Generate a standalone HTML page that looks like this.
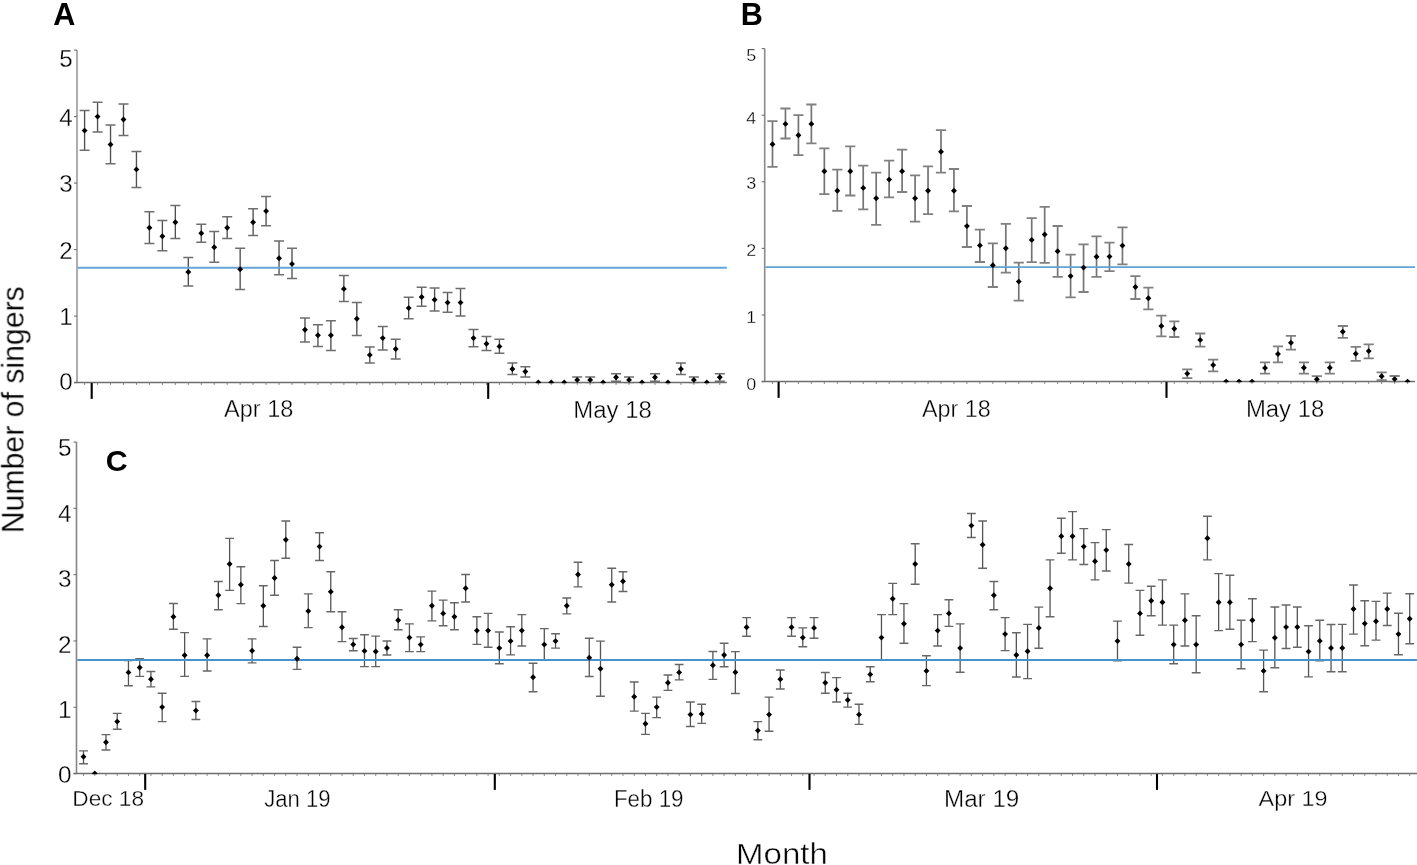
<!DOCTYPE html><html><head><meta charset="utf-8"><style>html,body{margin:0;padding:0;background:#fff;}body{width:1417px;height:865px;overflow:hidden;}svg{display:block;font-family:"Liberation Sans",sans-serif;}</style></head><body>
<svg width="1417" height="865" viewBox="0 0 1417 865">
<rect width="1417" height="865" fill="#fff"/>
<line x1="77" y1="50" x2="77" y2="382.6" stroke="#9a9a9a" stroke-width="1.6"/>
<line x1="74.00" y1="382.60" x2="77.00" y2="382.60" stroke="#707070" stroke-width="1.1"/>
<line x1="74.00" y1="316.10" x2="77.00" y2="316.10" stroke="#707070" stroke-width="1.1"/>
<line x1="74.00" y1="249.60" x2="77.00" y2="249.60" stroke="#707070" stroke-width="1.1"/>
<line x1="74.00" y1="183.10" x2="77.00" y2="183.10" stroke="#707070" stroke-width="1.1"/>
<line x1="74.00" y1="116.60" x2="77.00" y2="116.60" stroke="#707070" stroke-width="1.1"/>
<line x1="74.00" y1="50.10" x2="77.00" y2="50.10" stroke="#707070" stroke-width="1.1"/>
<line x1="74.00" y1="382.6" x2="726.8" y2="382.6" stroke="#6e6e6e" stroke-width="1.5"/>
<path d="M84.60 382.60v2.3M97.56 382.60v2.3M110.53 382.60v2.3M123.49 382.60v2.3M136.45 382.60v2.3M149.41 382.60v2.3M162.38 382.60v2.3M175.34 382.60v2.3M188.30 382.60v2.3M201.27 382.60v2.3M214.23 382.60v2.3M227.19 382.60v2.3M240.16 382.60v2.3M253.12 382.60v2.3M266.08 382.60v2.3M279.04 382.60v2.3M292.01 382.60v2.3M304.97 382.60v2.3M317.93 382.60v2.3M330.90 382.60v2.3M343.86 382.60v2.3M356.82 382.60v2.3M369.79 382.60v2.3M382.75 382.60v2.3M395.71 382.60v2.3M408.67 382.60v2.3M421.64 382.60v2.3M434.60 382.60v2.3M447.56 382.60v2.3M460.53 382.60v2.3M473.49 382.60v2.3M486.45 382.60v2.3M499.42 382.60v2.3M512.38 382.60v2.3M525.34 382.60v2.3M538.30 382.60v2.3M551.27 382.60v2.3M564.23 382.60v2.3M577.19 382.60v2.3M590.16 382.60v2.3M603.12 382.60v2.3M616.08 382.60v2.3M629.05 382.60v2.3M642.01 382.60v2.3M654.97 382.60v2.3M667.93 382.60v2.3M680.90 382.60v2.3M693.86 382.60v2.3M706.82 382.60v2.3M719.79 382.60v2.3" stroke="#808080" stroke-width="1" fill="none"/>
<line x1="91.7" y1="383.00" x2="91.7" y2="398.90" stroke="#000" stroke-width="2.1"/>
<line x1="488.2" y1="383.00" x2="488.2" y2="398.90" stroke="#000" stroke-width="2.1"/>
<clipPath id="ca"><rect x="77" y="0" width="659.8" height="383.20"/></clipPath>
<g clip-path="url(#ca)">
<path d="M84.60 110.50V150.20M97.56 102.20V132.00M110.53 124.90V163.70M123.49 104.10V135.50M136.45 151.40V187.40M149.41 211.80V243.60M162.38 220.60V250.80M175.34 205.50V238.60M188.30 257.50V286.10M201.27 224.20V242.20M214.23 231.40V262.30M227.19 216.80V238.60M240.16 248.30V289.60M253.12 208.80V235.50M266.08 196.40V225.80M279.04 240.90V274.80M292.01 248.30V278.50M304.97 317.90V342.00M317.93 324.70V346.40M330.90 320.80V350.60M343.86 275.60V301.40M356.82 302.60V335.40M369.79 347.10V363.00M382.75 326.50V349.90M395.71 339.30V359.10M408.67 297.30V318.70M421.64 287.30V306.20M434.60 288.00V311.10M447.56 292.40V312.20M460.53 288.50V315.90M473.49 329.60V346.70M486.45 336.50V350.60M499.42 339.30V353.30M512.38 363.10V374.50M525.34 366.70V377.10M577.19 376.90V382.90M590.16 376.90V382.90M616.08 373.70V381.20M629.05 376.90V382.90M654.97 373.70V381.20M680.90 363.10V374.50M693.86 376.90V382.90M719.79 373.70V381.20" stroke="#505050" stroke-width="1.35" fill="none"/>
<path d="M79.60 110.50h10.00M79.60 150.20h10.00M92.56 102.20h10.00M92.56 132.00h10.00M105.53 124.90h10.00M105.53 163.70h10.00M118.49 104.10h10.00M118.49 135.50h10.00M131.45 151.40h10.00M131.45 187.40h10.00M144.41 211.80h10.00M144.41 243.60h10.00M157.38 220.60h10.00M157.38 250.80h10.00M170.34 205.50h10.00M170.34 238.60h10.00M183.30 257.50h10.00M183.30 286.10h10.00M196.27 224.20h10.00M196.27 242.20h10.00M209.23 231.40h10.00M209.23 262.30h10.00M222.19 216.80h10.00M222.19 238.60h10.00M235.16 248.30h10.00M235.16 289.60h10.00M248.12 208.80h10.00M248.12 235.50h10.00M261.08 196.40h10.00M261.08 225.80h10.00M274.04 240.90h10.00M274.04 274.80h10.00M287.01 248.30h10.00M287.01 278.50h10.00M299.97 317.90h10.00M299.97 342.00h10.00M312.93 324.70h10.00M312.93 346.40h10.00M325.90 320.80h10.00M325.90 350.60h10.00M338.86 275.60h10.00M338.86 301.40h10.00M351.82 302.60h10.00M351.82 335.40h10.00M364.79 347.10h10.00M364.79 363.00h10.00M377.75 326.50h10.00M377.75 349.90h10.00M390.71 339.30h10.00M390.71 359.10h10.00M403.67 297.30h10.00M403.67 318.70h10.00M416.64 287.30h10.00M416.64 306.20h10.00M429.60 288.00h10.00M429.60 311.10h10.00M442.56 292.40h10.00M442.56 312.20h10.00M455.53 288.50h10.00M455.53 315.90h10.00M468.49 329.60h10.00M468.49 346.70h10.00M481.45 336.50h10.00M481.45 350.60h10.00M494.42 339.30h10.00M494.42 353.30h10.00M507.38 363.10h10.00M507.38 374.50h10.00M520.34 366.70h10.00M520.34 377.10h10.00M572.19 376.90h10.00M572.19 382.90h10.00M585.16 376.90h10.00M585.16 382.90h10.00M611.08 373.70h10.00M611.08 381.20h10.00M624.05 376.90h10.00M624.05 382.90h10.00M649.97 373.70h10.00M649.97 381.20h10.00M675.90 363.10h10.00M675.90 374.50h10.00M688.86 376.90h10.00M688.86 382.90h10.00M714.79 373.70h10.00M714.79 381.20h10.00" stroke="#6e6e6e" stroke-width="1.5" fill="none"/>
</g>
<line x1="77.80" y1="267.8" x2="726.8" y2="267.8" stroke="#64a4d8" stroke-width="2.1"/>
<g clip-path="url(#ca)"><path d="M84.60 127.65L87.55 130.60L84.60 133.55L81.65 130.60ZM97.56 113.65L100.51 116.60L97.56 119.55L94.61 116.60ZM110.53 141.55L113.48 144.50L110.53 147.45L107.58 144.50ZM123.49 116.55L126.44 119.50L123.49 122.45L120.54 119.50ZM136.45 166.45L139.40 169.40L136.45 172.35L133.50 169.40ZM149.41 224.75L152.36 227.70L149.41 230.65L146.47 227.70ZM162.38 233.25L165.33 236.20L162.38 239.15L159.43 236.20ZM175.34 219.25L178.29 222.20L175.34 225.15L172.39 222.20ZM188.30 269.05L191.25 272.00L188.30 274.95L185.35 272.00ZM201.27 230.25L204.22 233.20L201.27 236.15L198.32 233.20ZM214.23 244.35L217.18 247.30L214.23 250.25L211.28 247.30ZM227.19 224.75L230.14 227.70L227.19 230.65L224.24 227.70ZM240.16 266.25L243.11 269.20L240.16 272.15L237.21 269.20ZM253.12 219.25L256.07 222.20L253.12 225.15L250.17 222.20ZM266.08 208.15L269.03 211.10L266.08 214.05L263.13 211.10ZM279.04 255.25L281.99 258.20L279.04 261.15L276.09 258.20ZM292.01 260.95L294.96 263.90L292.01 266.85L289.06 263.90ZM304.97 326.75L307.92 329.70L304.97 332.65L302.02 329.70ZM317.93 332.35L320.88 335.30L317.93 338.25L314.98 335.30ZM330.90 332.35L333.85 335.30L330.90 338.25L327.95 335.30ZM343.86 285.95L346.81 288.90L343.86 291.85L340.91 288.90ZM356.82 315.75L359.77 318.70L356.82 321.65L353.87 318.70ZM369.79 351.95L372.74 354.90L369.79 357.85L366.84 354.90ZM382.75 335.15L385.70 338.10L382.75 341.05L379.80 338.10ZM395.71 346.05L398.66 349.00L395.71 351.95L392.76 349.00ZM408.67 305.15L411.62 308.10L408.67 311.05L405.72 308.10ZM421.64 294.05L424.59 297.00L421.64 299.95L418.69 297.00ZM434.60 296.85L437.55 299.80L434.60 302.75L431.65 299.80ZM447.56 299.65L450.51 302.60L447.56 305.55L444.61 302.60ZM460.53 299.65L463.48 302.60L460.53 305.55L457.58 302.60ZM473.49 335.15L476.44 338.10L473.49 341.05L470.54 338.10ZM486.45 340.75L489.40 343.70L486.45 346.65L483.50 343.70ZM499.42 343.45L502.37 346.40L499.42 349.35L496.47 346.40ZM512.38 366.05L515.33 369.00L512.38 371.95L509.43 369.00ZM525.34 368.65L528.29 371.60L525.34 374.55L522.39 371.60ZM538.30 379.55L541.25 382.50L538.30 385.45L535.35 382.50ZM551.27 379.55L554.22 382.50L551.27 385.45L548.32 382.50ZM564.23 379.55L567.18 382.50L564.23 385.45L561.28 382.50ZM577.19 376.95L580.14 379.90L577.19 382.85L574.24 379.90ZM590.16 376.95L593.11 379.90L590.16 382.85L587.21 379.90ZM603.12 379.55L606.07 382.50L603.12 385.45L600.17 382.50ZM616.08 374.35L619.03 377.30L616.08 380.25L613.13 377.30ZM629.05 376.95L632.00 379.90L629.05 382.85L626.10 379.90ZM642.01 379.55L644.96 382.50L642.01 385.45L639.06 382.50ZM654.97 374.35L657.92 377.30L654.97 380.25L652.02 377.30ZM667.93 379.55L670.88 382.50L667.93 385.45L664.98 382.50ZM680.90 366.05L683.85 369.00L680.90 371.95L677.95 369.00ZM693.86 376.95L696.81 379.90L693.86 382.85L690.91 379.90ZM706.82 379.55L709.77 382.50L706.82 385.45L703.87 382.50ZM719.79 374.35L722.74 377.30L719.79 380.25L716.84 377.30Z" fill="#000"/></g>
<line x1="764.7" y1="48.6" x2="764.7" y2="381.6" stroke="#8a8a8a" stroke-width="1.6"/>
<line x1="761.70" y1="381.60" x2="764.70" y2="381.60" stroke="#707070" stroke-width="1.1"/>
<line x1="761.70" y1="315.00" x2="764.70" y2="315.00" stroke="#707070" stroke-width="1.1"/>
<line x1="761.70" y1="248.40" x2="764.70" y2="248.40" stroke="#707070" stroke-width="1.1"/>
<line x1="761.70" y1="181.80" x2="764.70" y2="181.80" stroke="#707070" stroke-width="1.1"/>
<line x1="761.70" y1="115.20" x2="764.70" y2="115.20" stroke="#707070" stroke-width="1.1"/>
<line x1="761.70" y1="48.60" x2="764.70" y2="48.60" stroke="#707070" stroke-width="1.1"/>
<line x1="761.70" y1="381.6" x2="1415" y2="381.6" stroke="#6e6e6e" stroke-width="1.5"/>
<path d="M772.50 381.60v2.3M785.46 381.60v2.3M798.42 381.60v2.3M811.38 381.60v2.3M824.34 381.60v2.3M837.31 381.60v2.3M850.27 381.60v2.3M863.23 381.60v2.3M876.19 381.60v2.3M889.15 381.60v2.3M902.11 381.60v2.3M915.07 381.60v2.3M928.03 381.60v2.3M940.99 381.60v2.3M953.95 381.60v2.3M966.91 381.60v2.3M979.88 381.60v2.3M992.84 381.60v2.3M1005.80 381.60v2.3M1018.76 381.60v2.3M1031.72 381.60v2.3M1044.68 381.60v2.3M1057.64 381.60v2.3M1070.60 381.60v2.3M1083.56 381.60v2.3M1096.53 381.60v2.3M1109.49 381.60v2.3M1122.45 381.60v2.3M1135.41 381.60v2.3M1148.37 381.60v2.3M1161.33 381.60v2.3M1174.29 381.60v2.3M1187.25 381.60v2.3M1200.21 381.60v2.3M1213.17 381.60v2.3M1226.13 381.60v2.3M1239.10 381.60v2.3M1252.06 381.60v2.3M1265.02 381.60v2.3M1277.98 381.60v2.3M1290.94 381.60v2.3M1303.90 381.60v2.3M1316.86 381.60v2.3M1329.82 381.60v2.3M1342.78 381.60v2.3M1355.74 381.60v2.3M1368.71 381.60v2.3M1381.67 381.60v2.3M1394.63 381.60v2.3M1407.59 381.60v2.3" stroke="#808080" stroke-width="1" fill="none"/>
<line x1="778.6" y1="382.00" x2="778.6" y2="397.90" stroke="#000" stroke-width="2.1"/>
<line x1="1166.5" y1="382.00" x2="1166.5" y2="397.90" stroke="#000" stroke-width="2.1"/>
<clipPath id="cb"><rect x="764.7" y="0" width="660.3" height="382.20"/></clipPath>
<g clip-path="url(#cb)">
<path d="M772.50 121.20V166.90M785.46 108.50V138.50M798.42 115.10V155.10M811.38 104.50V143.30M824.34 148.40V194.10M837.31 169.70V210.90M850.27 146.30V195.50M863.23 165.70V209.40M876.19 172.60V224.80M889.15 160.70V197.40M902.11 149.60V192.00M915.07 175.40V221.60M928.03 166.40V214.20M940.99 130.20V172.60M953.95 169.00V211.40M966.91 206.00V247.00M979.88 229.70V262.00M992.84 243.30V287.00M1005.80 223.90V272.60M1018.76 262.70V300.60M1031.72 218.20V262.20M1044.68 206.80V262.90M1057.64 226.00V276.80M1070.60 254.60V297.40M1083.56 244.30V292.00M1096.53 236.40V276.80M1109.49 242.60V271.20M1122.45 227.40V264.30M1135.41 276.10V299.00M1148.37 287.60V309.40M1161.33 315.60V336.40M1174.29 321.30V337.00M1187.25 369.30V378.10M1200.21 333.50V346.70M1213.17 359.60V371.30M1265.02 362.30V373.60M1277.98 346.40V362.30M1290.94 335.80V349.70M1303.90 362.30V373.60M1316.86 376.10V382.30M1329.82 362.30V373.60M1342.78 326.00V337.80M1355.74 346.90V360.80M1368.71 344.40V358.30M1381.67 372.40V380.20M1394.63 376.00V382.20" stroke="#747474" stroke-width="1.7" fill="none"/>
<path d="M767.40 121.20h10.20M767.40 166.90h10.20M780.36 108.50h10.20M780.36 138.50h10.20M793.32 115.10h10.20M793.32 155.10h10.20M806.28 104.50h10.20M806.28 143.30h10.20M819.24 148.40h10.20M819.24 194.10h10.20M832.21 169.70h10.20M832.21 210.90h10.20M845.17 146.30h10.20M845.17 195.50h10.20M858.13 165.70h10.20M858.13 209.40h10.20M871.09 172.60h10.20M871.09 224.80h10.20M884.05 160.70h10.20M884.05 197.40h10.20M897.01 149.60h10.20M897.01 192.00h10.20M909.97 175.40h10.20M909.97 221.60h10.20M922.93 166.40h10.20M922.93 214.20h10.20M935.89 130.20h10.20M935.89 172.60h10.20M948.85 169.00h10.20M948.85 211.40h10.20M961.81 206.00h10.20M961.81 247.00h10.20M974.78 229.70h10.20M974.78 262.00h10.20M987.74 243.30h10.20M987.74 287.00h10.20M1000.70 223.90h10.20M1000.70 272.60h10.20M1013.66 262.70h10.20M1013.66 300.60h10.20M1026.62 218.20h10.20M1026.62 262.20h10.20M1039.58 206.80h10.20M1039.58 262.90h10.20M1052.54 226.00h10.20M1052.54 276.80h10.20M1065.50 254.60h10.20M1065.50 297.40h10.20M1078.46 244.30h10.20M1078.46 292.00h10.20M1091.43 236.40h10.20M1091.43 276.80h10.20M1104.39 242.60h10.20M1104.39 271.20h10.20M1117.35 227.40h10.20M1117.35 264.30h10.20M1130.31 276.10h10.20M1130.31 299.00h10.20M1143.27 287.60h10.20M1143.27 309.40h10.20M1156.23 315.60h10.20M1156.23 336.40h10.20M1169.19 321.30h10.20M1169.19 337.00h10.20M1182.15 369.30h10.20M1182.15 378.10h10.20M1195.11 333.50h10.20M1195.11 346.70h10.20M1208.07 359.60h10.20M1208.07 371.30h10.20M1259.92 362.30h10.20M1259.92 373.60h10.20M1272.88 346.40h10.20M1272.88 362.30h10.20M1285.84 335.80h10.20M1285.84 349.70h10.20M1298.80 362.30h10.20M1298.80 373.60h10.20M1311.76 376.10h10.20M1311.76 382.30h10.20M1324.72 362.30h10.20M1324.72 373.60h10.20M1337.68 326.00h10.20M1337.68 337.80h10.20M1350.64 346.90h10.20M1350.64 360.80h10.20M1363.61 344.40h10.20M1363.61 358.30h10.20M1376.57 372.40h10.20M1376.57 380.20h10.20M1389.53 376.00h10.20M1389.53 382.20h10.20" stroke="#808080" stroke-width="1.8" fill="none"/>
</g>
<line x1="765.50" y1="267.1" x2="1415" y2="267.1" stroke="#62a2d6" stroke-width="1.9"/>
<g clip-path="url(#cb)"><path d="M772.50 141.25L775.45 144.20L772.50 147.15L769.55 144.20ZM785.46 120.95L788.41 123.90L785.46 126.85L782.51 123.90ZM798.42 132.25L801.37 135.20L798.42 138.15L795.47 135.20ZM811.38 120.95L814.33 123.90L811.38 126.85L808.43 123.90ZM824.34 168.35L827.29 171.30L824.34 174.25L821.39 171.30ZM837.31 187.75L840.26 190.70L837.31 193.65L834.36 190.70ZM850.27 168.35L853.22 171.30L850.27 174.25L847.32 171.30ZM863.23 184.95L866.18 187.90L863.23 190.85L860.28 187.90ZM876.19 195.35L879.14 198.30L876.19 201.25L873.24 198.30ZM889.15 176.65L892.10 179.60L889.15 182.55L886.20 179.60ZM902.11 168.35L905.06 171.30L902.11 174.25L899.16 171.30ZM915.07 195.35L918.02 198.30L915.07 201.25L912.12 198.30ZM928.03 187.75L930.98 190.70L928.03 193.65L925.08 190.70ZM940.99 148.85L943.94 151.80L940.99 154.75L938.04 151.80ZM953.95 187.75L956.90 190.70L953.95 193.65L951.00 190.70ZM966.91 223.15L969.87 226.10L966.91 229.05L963.96 226.10ZM979.88 242.45L982.83 245.40L979.88 248.35L976.93 245.40ZM992.84 262.35L995.79 265.30L992.84 268.25L989.89 265.30ZM1005.80 245.25L1008.75 248.20L1005.80 251.15L1002.85 248.20ZM1018.76 278.65L1021.71 281.60L1018.76 284.55L1015.81 281.60ZM1031.72 236.95L1034.67 239.90L1031.72 242.85L1028.77 239.90ZM1044.68 231.55L1047.63 234.50L1044.68 237.45L1041.73 234.50ZM1057.64 248.25L1060.59 251.20L1057.64 254.15L1054.69 251.20ZM1070.60 273.15L1073.55 276.10L1070.60 279.05L1067.65 276.10ZM1083.56 264.65L1086.51 267.60L1083.56 270.55L1080.61 267.60ZM1096.53 253.75L1099.48 256.70L1096.53 259.65L1093.58 256.70ZM1109.49 253.65L1112.44 256.60L1109.49 259.55L1106.54 256.60ZM1122.45 242.65L1125.40 245.60L1122.45 248.55L1119.50 245.60ZM1135.41 284.05L1138.36 287.00L1135.41 289.95L1132.46 287.00ZM1148.37 295.25L1151.32 298.20L1148.37 301.15L1145.42 298.20ZM1161.33 323.05L1164.28 326.00L1161.33 328.95L1158.38 326.00ZM1174.29 325.85L1177.24 328.80L1174.29 331.75L1171.34 328.80ZM1187.25 370.65L1190.20 373.60L1187.25 376.55L1184.30 373.60ZM1200.21 336.95L1203.16 339.90L1200.21 342.85L1197.26 339.90ZM1213.17 362.15L1216.12 365.10L1213.17 368.05L1210.22 365.10ZM1226.13 378.65L1229.09 381.60L1226.13 384.55L1223.18 381.60ZM1239.10 378.65L1242.05 381.60L1239.10 384.55L1236.15 381.60ZM1252.06 378.65L1255.01 381.60L1252.06 384.55L1249.11 381.60ZM1265.02 364.95L1267.97 367.90L1265.02 370.85L1262.07 367.90ZM1277.98 351.05L1280.93 354.00L1277.98 356.95L1275.03 354.00ZM1290.94 339.75L1293.89 342.70L1290.94 345.65L1287.99 342.70ZM1303.90 364.85L1306.85 367.80L1303.90 370.75L1300.95 367.80ZM1316.86 376.25L1319.81 379.20L1316.86 382.15L1313.91 379.20ZM1329.82 364.85L1332.77 367.80L1329.82 370.75L1326.87 367.80ZM1342.78 328.75L1345.73 331.70L1342.78 334.65L1339.83 331.70ZM1355.74 350.85L1358.69 353.80L1355.74 356.75L1352.79 353.80ZM1368.71 348.15L1371.66 351.10L1368.71 354.05L1365.76 351.10ZM1381.67 373.35L1384.62 376.30L1381.67 379.25L1378.72 376.30ZM1394.63 376.15L1397.58 379.10L1394.63 382.05L1391.68 379.10ZM1407.59 378.65L1410.54 381.60L1407.59 384.55L1404.64 381.60Z" fill="#000"/></g>
<line x1="76.5" y1="442" x2="76.5" y2="773.6" stroke="#858585" stroke-width="1.6"/>
<line x1="73.50" y1="773.60" x2="76.50" y2="773.60" stroke="#707070" stroke-width="1.1"/>
<line x1="73.50" y1="707.28" x2="76.50" y2="707.28" stroke="#707070" stroke-width="1.1"/>
<line x1="73.50" y1="640.96" x2="76.50" y2="640.96" stroke="#707070" stroke-width="1.1"/>
<line x1="73.50" y1="574.64" x2="76.50" y2="574.64" stroke="#707070" stroke-width="1.1"/>
<line x1="73.50" y1="508.32" x2="76.50" y2="508.32" stroke="#707070" stroke-width="1.1"/>
<line x1="73.50" y1="442.00" x2="76.50" y2="442.00" stroke="#707070" stroke-width="1.1"/>
<line x1="73.50" y1="773.6" x2="1417" y2="773.6" stroke="#6e6e6e" stroke-width="1.5"/>
<path d="M83.50 773.60v2.3M94.74 773.60v2.3M105.98 773.60v2.3M117.22 773.60v2.3M128.46 773.60v2.3M139.69 773.60v2.3M150.93 773.60v2.3M162.17 773.60v2.3M173.41 773.60v2.3M184.65 773.60v2.3M195.89 773.60v2.3M207.13 773.60v2.3M218.37 773.60v2.3M229.61 773.60v2.3M240.85 773.60v2.3M252.09 773.60v2.3M263.32 773.60v2.3M274.56 773.60v2.3M285.80 773.60v2.3M297.04 773.60v2.3M308.28 773.60v2.3M319.52 773.60v2.3M330.76 773.60v2.3M342.00 773.60v2.3M353.24 773.60v2.3M364.48 773.60v2.3M375.71 773.60v2.3M386.95 773.60v2.3M398.19 773.60v2.3M409.43 773.60v2.3M420.67 773.60v2.3M431.91 773.60v2.3M443.15 773.60v2.3M454.39 773.60v2.3M465.63 773.60v2.3M476.87 773.60v2.3M488.10 773.60v2.3M499.34 773.60v2.3M510.58 773.60v2.3M521.82 773.60v2.3M533.06 773.60v2.3M544.30 773.60v2.3M555.54 773.60v2.3M566.78 773.60v2.3M578.02 773.60v2.3M589.26 773.60v2.3M600.49 773.60v2.3M611.73 773.60v2.3M622.97 773.60v2.3M634.21 773.60v2.3M645.45 773.60v2.3M656.69 773.60v2.3M667.93 773.60v2.3M679.17 773.60v2.3M690.41 773.60v2.3M701.65 773.60v2.3M712.88 773.60v2.3M724.12 773.60v2.3M735.36 773.60v2.3M746.60 773.60v2.3M757.84 773.60v2.3M769.08 773.60v2.3M780.32 773.60v2.3M791.56 773.60v2.3M802.80 773.60v2.3M814.04 773.60v2.3M825.27 773.60v2.3M836.51 773.60v2.3M847.75 773.60v2.3M858.99 773.60v2.3M870.23 773.60v2.3M881.47 773.60v2.3M892.71 773.60v2.3M903.95 773.60v2.3M915.19 773.60v2.3M926.43 773.60v2.3M937.66 773.60v2.3M948.90 773.60v2.3M960.14 773.60v2.3M971.38 773.60v2.3M982.62 773.60v2.3M993.86 773.60v2.3M1005.10 773.60v2.3M1016.34 773.60v2.3M1027.58 773.60v2.3M1038.82 773.60v2.3M1050.05 773.60v2.3M1061.29 773.60v2.3M1072.53 773.60v2.3M1083.77 773.60v2.3M1095.01 773.60v2.3M1106.25 773.60v2.3M1117.49 773.60v2.3M1128.73 773.60v2.3M1139.97 773.60v2.3M1151.21 773.60v2.3M1162.44 773.60v2.3M1173.68 773.60v2.3M1184.92 773.60v2.3M1196.16 773.60v2.3M1207.40 773.60v2.3M1218.64 773.60v2.3M1229.88 773.60v2.3M1241.12 773.60v2.3M1252.36 773.60v2.3M1263.60 773.60v2.3M1274.83 773.60v2.3M1286.07 773.60v2.3M1297.31 773.60v2.3M1308.55 773.60v2.3M1319.79 773.60v2.3M1331.03 773.60v2.3M1342.27 773.60v2.3M1353.51 773.60v2.3M1364.75 773.60v2.3M1375.99 773.60v2.3M1387.22 773.60v2.3M1398.46 773.60v2.3M1409.70 773.60v2.3" stroke="#808080" stroke-width="1" fill="none"/>
<line x1="145.2" y1="774.00" x2="145.2" y2="789.90" stroke="#000" stroke-width="2.1"/>
<line x1="494.8" y1="774.00" x2="494.8" y2="789.90" stroke="#000" stroke-width="2.1"/>
<line x1="809.5" y1="774.00" x2="809.5" y2="789.90" stroke="#000" stroke-width="2.1"/>
<line x1="1157" y1="774.00" x2="1157" y2="789.90" stroke="#000" stroke-width="2.1"/>
<clipPath id="cc"><rect x="76.5" y="0" width="1350.5" height="774.20"/></clipPath>
<g clip-path="url(#cc)">
<path d="M83.50 750.90V763.70M105.98 734.60V750.00M117.22 713.40V729.30M128.46 660.50V685.70M139.69 658.70V676.40M150.93 671.50V686.90M162.17 693.20V721.60M173.41 603.50V629.30M184.65 632.60V676.40M195.89 701.50V719.50M207.13 638.90V671.00M218.37 581.50V609.70M229.61 538.40V590.40M240.85 566.80V603.60M252.09 638.90V662.90M263.32 585.70V626.50M274.56 560.50V595.20M285.80 521.00V558.20M297.04 647.30V669.40M308.28 593.90V627.60M319.52 532.80V560.50M330.76 571.70V611.80M342.00 611.70V641.60M353.24 638.50V650.70M364.48 634.80V666.60M375.71 636.10V666.60M386.95 641.00V655.00M398.19 609.80V629.70M409.43 623.90V651.60M420.67 636.90V651.60M431.91 591.10V620.90M443.15 600.10V625.80M454.39 602.70V629.70M465.63 574.50V602.00M476.87 616.70V644.40M488.10 613.40V647.20M499.34 632.00V663.70M510.58 626.70V654.90M521.82 614.60V646.00M533.06 663.30V691.70M544.30 628.60V660.20M555.54 633.70V648.10M566.78 598.00V613.90M578.02 562.20V586.90M589.26 638.30V676.50M600.49 641.10V696.30M611.73 568.20V602.00M622.97 571.70V591.50M634.21 682.00V711.10M645.45 713.40V734.40M656.69 697.10V717.60M667.93 675.00V690.40M679.17 664.50V679.90M690.41 702.00V726.50M701.65 704.30V723.40M712.88 651.50V679.40M724.12 643.20V666.70M735.36 651.60V693.50M746.60 617.60V636.20M757.84 721.60V739.70M769.08 697.10V731.30M780.32 670.00V689.00M791.56 617.60V636.20M802.80 627.90V646.70M814.04 617.60V638.30M825.27 672.50V693.20M836.51 677.60V702.00M847.75 693.20V707.10M858.99 704.30V724.40M870.23 666.70V681.80M881.47 614.60V660.20M892.71 583.40V614.60M903.95 603.60V643.20M915.19 543.80V584.30M926.43 655.70V685.60M937.66 614.60V646.00M948.90 599.70V626.40M960.14 623.90V672.30M971.38 513.50V537.50M982.62 521.00V568.20M993.86 581.50V609.70M1005.10 617.60V650.60M1016.34 632.70V677.00M1027.58 624.40V678.60M1038.82 607.10V648.30M1050.05 559.90V616.70M1061.29 518.20V553.30M1072.53 511.60V559.90M1083.77 528.60V564.50M1095.01 542.60V579.90M1106.25 529.60V571.00M1117.49 621.10V660.70M1128.73 544.50V583.10M1139.97 590.40V635.30M1151.21 586.20V615.70M1162.44 579.90V625.10M1173.68 625.10V663.70M1184.92 593.90V646.00M1196.16 615.70V672.80M1207.40 516.30V559.90M1218.64 573.60V630.60M1229.88 575.20V629.30M1241.12 620.30V668.70M1252.36 598.80V641.60M1263.60 650.10V691.70M1274.83 607.00V667.80M1286.07 605.00V648.50M1297.31 607.00V647.30M1308.55 625.80V676.90M1319.79 620.30V660.70M1331.03 624.50V671.70M1342.27 624.40V671.70M1353.51 585.00V634.10M1364.75 600.80V645.80M1375.99 601.40V640.10M1387.22 593.10V625.50M1398.46 613.20V654.70M1409.70 593.80V643.70" stroke="#555555" stroke-width="1.3" fill="none"/>
<path d="M79.10 750.90h8.80M79.10 763.70h8.80M101.58 734.60h8.80M101.58 750.00h8.80M112.82 713.40h8.80M112.82 729.30h8.80M124.06 660.50h8.80M124.06 685.70h8.80M135.29 658.70h8.80M135.29 676.40h8.80M146.53 671.50h8.80M146.53 686.90h8.80M157.77 693.20h8.80M157.77 721.60h8.80M169.01 603.50h8.80M169.01 629.30h8.80M180.25 632.60h8.80M180.25 676.40h8.80M191.49 701.50h8.80M191.49 719.50h8.80M202.73 638.90h8.80M202.73 671.00h8.80M213.97 581.50h8.80M213.97 609.70h8.80M225.21 538.40h8.80M225.21 590.40h8.80M236.45 566.80h8.80M236.45 603.60h8.80M247.69 638.90h8.80M247.69 662.90h8.80M258.92 585.70h8.80M258.92 626.50h8.80M270.16 560.50h8.80M270.16 595.20h8.80M281.40 521.00h8.80M281.40 558.20h8.80M292.64 647.30h8.80M292.64 669.40h8.80M303.88 593.90h8.80M303.88 627.60h8.80M315.12 532.80h8.80M315.12 560.50h8.80M326.36 571.70h8.80M326.36 611.80h8.80M337.60 611.70h8.80M337.60 641.60h8.80M348.84 638.50h8.80M348.84 650.70h8.80M360.08 634.80h8.80M360.08 666.60h8.80M371.31 636.10h8.80M371.31 666.60h8.80M382.55 641.00h8.80M382.55 655.00h8.80M393.79 609.80h8.80M393.79 629.70h8.80M405.03 623.90h8.80M405.03 651.60h8.80M416.27 636.90h8.80M416.27 651.60h8.80M427.51 591.10h8.80M427.51 620.90h8.80M438.75 600.10h8.80M438.75 625.80h8.80M449.99 602.70h8.80M449.99 629.70h8.80M461.23 574.50h8.80M461.23 602.00h8.80M472.47 616.70h8.80M472.47 644.40h8.80M483.70 613.40h8.80M483.70 647.20h8.80M494.94 632.00h8.80M494.94 663.70h8.80M506.18 626.70h8.80M506.18 654.90h8.80M517.42 614.60h8.80M517.42 646.00h8.80M528.66 663.30h8.80M528.66 691.70h8.80M539.90 628.60h8.80M539.90 660.20h8.80M551.14 633.70h8.80M551.14 648.10h8.80M562.38 598.00h8.80M562.38 613.90h8.80M573.62 562.20h8.80M573.62 586.90h8.80M584.86 638.30h8.80M584.86 676.50h8.80M596.09 641.10h8.80M596.09 696.30h8.80M607.33 568.20h8.80M607.33 602.00h8.80M618.57 571.70h8.80M618.57 591.50h8.80M629.81 682.00h8.80M629.81 711.10h8.80M641.05 713.40h8.80M641.05 734.40h8.80M652.29 697.10h8.80M652.29 717.60h8.80M663.53 675.00h8.80M663.53 690.40h8.80M674.77 664.50h8.80M674.77 679.90h8.80M686.01 702.00h8.80M686.01 726.50h8.80M697.25 704.30h8.80M697.25 723.40h8.80M708.48 651.50h8.80M708.48 679.40h8.80M719.72 643.20h8.80M719.72 666.70h8.80M730.96 651.60h8.80M730.96 693.50h8.80M742.20 617.60h8.80M742.20 636.20h8.80M753.44 721.60h8.80M753.44 739.70h8.80M764.68 697.10h8.80M764.68 731.30h8.80M775.92 670.00h8.80M775.92 689.00h8.80M787.16 617.60h8.80M787.16 636.20h8.80M798.40 627.90h8.80M798.40 646.70h8.80M809.64 617.60h8.80M809.64 638.30h8.80M820.87 672.50h8.80M820.87 693.20h8.80M832.11 677.60h8.80M832.11 702.00h8.80M843.35 693.20h8.80M843.35 707.10h8.80M854.59 704.30h8.80M854.59 724.40h8.80M865.83 666.70h8.80M865.83 681.80h8.80M877.07 614.60h8.80M877.07 660.20h8.80M888.31 583.40h8.80M888.31 614.60h8.80M899.55 603.60h8.80M899.55 643.20h8.80M910.79 543.80h8.80M910.79 584.30h8.80M922.03 655.70h8.80M922.03 685.60h8.80M933.26 614.60h8.80M933.26 646.00h8.80M944.50 599.70h8.80M944.50 626.40h8.80M955.74 623.90h8.80M955.74 672.30h8.80M966.98 513.50h8.80M966.98 537.50h8.80M978.22 521.00h8.80M978.22 568.20h8.80M989.46 581.50h8.80M989.46 609.70h8.80M1000.70 617.60h8.80M1000.70 650.60h8.80M1011.94 632.70h8.80M1011.94 677.00h8.80M1023.18 624.40h8.80M1023.18 678.60h8.80M1034.41 607.10h8.80M1034.41 648.30h8.80M1045.65 559.90h8.80M1045.65 616.70h8.80M1056.89 518.20h8.80M1056.89 553.30h8.80M1068.13 511.60h8.80M1068.13 559.90h8.80M1079.37 528.60h8.80M1079.37 564.50h8.80M1090.61 542.60h8.80M1090.61 579.90h8.80M1101.85 529.60h8.80M1101.85 571.00h8.80M1113.09 621.10h8.80M1113.09 660.70h8.80M1124.33 544.50h8.80M1124.33 583.10h8.80M1135.57 590.40h8.80M1135.57 635.30h8.80M1146.81 586.20h8.80M1146.81 615.70h8.80M1158.04 579.90h8.80M1158.04 625.10h8.80M1169.28 625.10h8.80M1169.28 663.70h8.80M1180.52 593.90h8.80M1180.52 646.00h8.80M1191.76 615.70h8.80M1191.76 672.80h8.80M1203.00 516.30h8.80M1203.00 559.90h8.80M1214.24 573.60h8.80M1214.24 630.60h8.80M1225.48 575.20h8.80M1225.48 629.30h8.80M1236.72 620.30h8.80M1236.72 668.70h8.80M1247.96 598.80h8.80M1247.96 641.60h8.80M1259.19 650.10h8.80M1259.19 691.70h8.80M1270.43 607.00h8.80M1270.43 667.80h8.80M1281.67 605.00h8.80M1281.67 648.50h8.80M1292.91 607.00h8.80M1292.91 647.30h8.80M1304.15 625.80h8.80M1304.15 676.90h8.80M1315.39 620.30h8.80M1315.39 660.70h8.80M1326.63 624.50h8.80M1326.63 671.70h8.80M1337.87 624.40h8.80M1337.87 671.70h8.80M1349.11 585.00h8.80M1349.11 634.10h8.80M1360.35 600.80h8.80M1360.35 645.80h8.80M1371.59 601.40h8.80M1371.59 640.10h8.80M1382.82 593.10h8.80M1382.82 625.50h8.80M1394.06 613.20h8.80M1394.06 654.70h8.80M1405.30 593.80h8.80M1405.30 643.70h8.80" stroke="#666666" stroke-width="1.4" fill="none"/>
</g>
<line x1="77.30" y1="660.0" x2="1417" y2="660.0" stroke="#4a91cf" stroke-width="2.1"/>
<g clip-path="url(#cc)"><path d="M83.50 753.75L86.45 756.70L83.50 759.65L80.55 756.70ZM94.74 770.55L97.69 773.50L94.74 776.45L91.79 773.50ZM105.98 739.35L108.93 742.30L105.98 745.25L103.03 742.30ZM117.22 718.65L120.17 721.60L117.22 724.55L114.27 721.60ZM128.46 669.45L131.41 672.40L128.46 675.35L125.51 672.40ZM139.69 664.55L142.64 667.50L139.69 670.45L136.75 667.50ZM150.93 676.25L153.88 679.20L150.93 682.15L147.98 679.20ZM162.17 704.15L165.12 707.10L162.17 710.05L159.22 707.10ZM173.41 613.85L176.36 616.80L173.41 619.75L170.46 616.80ZM184.65 652.25L187.60 655.20L184.65 658.15L181.70 655.20ZM195.89 707.65L198.84 710.60L195.89 713.55L192.94 710.60ZM207.13 652.25L210.08 655.20L207.13 658.15L204.18 655.20ZM218.37 592.25L221.32 595.20L218.37 598.15L215.42 595.20ZM229.61 561.05L232.56 564.00L229.61 566.95L226.66 564.00ZM240.85 581.85L243.80 584.80L240.85 587.75L237.90 584.80ZM252.09 647.85L255.03 650.80L252.09 653.75L249.14 650.80ZM263.32 602.75L266.27 605.70L263.32 608.65L260.37 605.70ZM274.56 575.05L277.51 578.00L274.56 580.95L271.61 578.00ZM285.80 536.85L288.75 539.80L285.80 542.75L282.85 539.80ZM297.04 655.75L299.99 658.70L297.04 661.65L294.09 658.70ZM308.28 608.15L311.23 611.10L308.28 614.05L305.33 611.10ZM319.52 543.65L322.47 546.60L319.52 549.55L316.57 546.60ZM330.76 588.85L333.71 591.80L330.76 594.75L327.81 591.80ZM342.00 624.25L344.95 627.20L342.00 630.15L339.05 627.20ZM353.24 641.55L356.19 644.50L353.24 647.45L350.29 644.50ZM364.48 647.95L367.43 650.90L364.48 653.85L361.53 650.90ZM375.71 648.55L378.66 651.50L375.71 654.45L372.76 651.50ZM386.95 645.05L389.90 648.00L386.95 650.95L384.00 648.00ZM398.19 617.35L401.14 620.30L398.19 623.25L395.24 620.30ZM409.43 634.65L412.38 637.60L409.43 640.55L406.48 637.60ZM420.67 641.65L423.62 644.60L420.67 647.55L417.72 644.60ZM431.91 602.75L434.86 605.70L431.91 608.65L428.96 605.70ZM443.15 610.45L446.10 613.40L443.15 616.35L440.20 613.40ZM454.39 613.75L457.34 616.70L454.39 619.65L451.44 616.70ZM465.63 585.35L468.58 588.30L465.63 591.25L462.68 588.30ZM476.87 627.65L479.81 630.60L476.87 633.55L473.92 630.60ZM488.10 627.65L491.05 630.60L488.10 633.55L485.15 630.60ZM499.34 645.15L502.29 648.10L499.34 651.05L496.39 648.10ZM510.58 638.15L513.53 641.10L510.58 644.05L507.63 641.10ZM521.82 627.65L524.77 630.60L521.82 633.55L518.87 630.60ZM533.06 674.25L536.01 677.20L533.06 680.15L530.11 677.20ZM544.30 641.65L547.25 644.60L544.30 647.55L541.35 644.60ZM555.54 638.15L558.49 641.10L555.54 644.05L552.59 641.10ZM566.78 602.75L569.73 605.70L566.78 608.65L563.83 605.70ZM578.02 571.55L580.97 574.50L578.02 577.45L575.07 574.50ZM589.26 654.75L592.21 657.70L589.26 660.65L586.31 657.70ZM600.49 665.85L603.44 668.80L600.49 671.75L597.54 668.80ZM611.73 581.85L614.68 584.80L611.73 587.75L608.78 584.80ZM622.97 578.35L625.92 581.30L622.97 584.25L620.02 581.30ZM634.21 693.75L637.16 696.70L634.21 699.65L631.26 696.70ZM645.45 720.75L648.40 723.70L645.45 726.65L642.50 723.70ZM656.69 704.15L659.64 707.10L656.69 710.05L653.74 707.10ZM667.93 679.75L670.88 682.70L667.93 685.65L664.98 682.70ZM679.17 669.45L682.12 672.40L679.17 675.35L676.22 672.40ZM690.41 711.65L693.36 714.60L690.41 717.55L687.46 714.60ZM701.65 710.95L704.60 713.90L701.65 716.85L698.70 713.90ZM712.88 662.25L715.83 665.20L712.88 668.15L709.93 665.20ZM724.12 652.05L727.07 655.00L724.12 657.95L721.17 655.00ZM735.36 669.35L738.31 672.30L735.36 675.25L732.41 672.30ZM746.60 624.25L749.55 627.20L746.60 630.15L743.65 627.20ZM757.84 727.65L760.79 730.60L757.84 733.55L754.89 730.60ZM769.08 711.65L772.03 714.60L769.08 717.55L766.13 714.60ZM780.32 676.25L783.27 679.20L780.32 682.15L777.37 679.20ZM791.56 624.25L794.51 627.20L791.56 630.15L788.61 627.20ZM802.80 634.65L805.75 637.60L802.80 640.55L799.85 637.60ZM814.04 624.95L816.99 627.90L814.04 630.85L811.09 627.90ZM825.27 679.75L828.22 682.70L825.27 685.65L822.32 682.70ZM836.51 686.75L839.46 689.70L836.51 692.65L833.56 689.70ZM847.75 697.05L850.70 700.00L847.75 702.95L844.80 700.00ZM858.99 711.65L861.94 714.60L858.99 717.55L856.04 714.60ZM870.23 671.45L873.18 674.40L870.23 677.35L867.28 674.40ZM881.47 634.65L884.42 637.60L881.47 640.55L878.52 637.60ZM892.71 595.75L895.66 598.70L892.71 601.65L889.76 598.70ZM903.95 620.75L906.90 623.70L903.95 626.65L901.00 623.70ZM915.19 561.05L918.14 564.00L915.19 566.95L912.24 564.00ZM926.43 667.95L929.38 670.90L926.43 673.85L923.48 670.90ZM937.66 627.65L940.61 630.60L937.66 633.55L934.71 630.60ZM948.90 610.45L951.85 613.40L948.90 616.35L945.95 613.40ZM960.14 645.15L963.09 648.10L960.14 651.05L957.19 648.10ZM971.38 522.65L974.33 525.60L971.38 528.55L968.43 525.60ZM982.62 541.75L985.57 544.70L982.62 547.65L979.67 544.70ZM993.86 592.25L996.81 595.20L993.86 598.15L990.91 595.20ZM1005.10 631.15L1008.05 634.10L1005.10 637.05L1002.15 634.10ZM1016.34 652.05L1019.29 655.00L1016.34 657.95L1013.39 655.00ZM1027.58 648.35L1030.53 651.30L1027.58 654.25L1024.63 651.30ZM1038.82 624.95L1041.77 627.90L1038.82 630.85L1035.87 627.90ZM1050.05 585.35L1053.00 588.30L1050.05 591.25L1047.10 588.30ZM1061.29 533.35L1064.24 536.30L1061.29 539.25L1058.34 536.30ZM1072.53 533.35L1075.48 536.30L1072.53 539.25L1069.58 536.30ZM1083.77 543.65L1086.72 546.60L1083.77 549.55L1080.82 546.60ZM1095.01 558.25L1097.96 561.20L1095.01 564.15L1092.06 561.20ZM1106.25 547.15L1109.20 550.10L1106.25 553.05L1103.30 550.10ZM1117.49 638.15L1120.44 641.10L1117.49 644.05L1114.54 641.10ZM1128.73 561.05L1131.68 564.00L1128.73 566.95L1125.78 564.00ZM1139.97 610.45L1142.92 613.40L1139.97 616.35L1137.02 613.40ZM1151.21 597.85L1154.16 600.80L1151.21 603.75L1148.26 600.80ZM1162.44 599.25L1165.39 602.20L1162.44 605.15L1159.49 602.20ZM1173.68 641.65L1176.63 644.60L1173.68 647.55L1170.73 644.60ZM1184.92 617.25L1187.87 620.20L1184.92 623.15L1181.97 620.20ZM1196.16 641.65L1199.11 644.60L1196.16 647.55L1193.21 644.60ZM1207.40 535.25L1210.35 538.20L1207.40 541.15L1204.45 538.20ZM1218.64 599.25L1221.59 602.20L1218.64 605.15L1215.69 602.20ZM1229.88 599.25L1232.83 602.20L1229.88 605.15L1226.93 602.20ZM1241.12 641.65L1244.07 644.60L1241.12 647.55L1238.17 644.60ZM1252.36 617.25L1255.31 620.20L1252.36 623.15L1249.41 620.20ZM1263.60 667.95L1266.55 670.90L1263.60 673.85L1260.64 670.90ZM1274.83 634.75L1277.78 637.70L1274.83 640.65L1271.88 637.70ZM1286.07 624.15L1289.02 627.10L1286.07 630.05L1283.12 627.10ZM1297.31 624.15L1300.26 627.10L1297.31 630.05L1294.36 627.10ZM1308.55 648.65L1311.50 651.60L1308.55 654.55L1305.60 651.60ZM1319.79 637.95L1322.74 640.90L1319.79 643.85L1316.84 640.90ZM1331.03 645.05L1333.98 648.00L1331.03 650.95L1328.08 648.00ZM1342.27 645.05L1345.22 648.00L1342.27 650.95L1339.32 648.00ZM1353.51 606.05L1356.46 609.00L1353.51 611.95L1350.56 609.00ZM1364.75 620.65L1367.70 623.60L1364.75 626.55L1361.80 623.60ZM1375.99 618.25L1378.94 621.20L1375.99 624.15L1373.04 621.20ZM1387.22 606.05L1390.17 609.00L1387.22 611.95L1384.27 609.00ZM1398.46 631.15L1401.41 634.10L1398.46 637.05L1395.51 634.10ZM1409.70 615.75L1412.65 618.70L1409.70 621.65L1406.75 618.70Z" fill="#000"/></g>
<g style="will-change:transform">
<text transform="translate(72.70,389.54) scale(1.050,1)" font-size="23.00" text-anchor="end" stroke="#fff" stroke-width="0.3">0</text>
<text transform="translate(72.70,325.13) scale(1.050,1)" font-size="23.00" text-anchor="end" stroke="#fff" stroke-width="0.3">1</text>
<text transform="translate(72.70,259.05) scale(1.050,1)" font-size="23.00" text-anchor="end" stroke="#fff" stroke-width="0.3">2</text>
<text transform="translate(72.70,192.34) scale(1.050,1)" font-size="23.00" text-anchor="end" stroke="#fff" stroke-width="0.3">3</text>
<text transform="translate(72.70,125.85) scale(1.050,1)" font-size="23.00" text-anchor="end" stroke="#fff" stroke-width="0.3">4</text>
<text transform="translate(72.70,67.02) scale(1.050,1)" font-size="23.00" text-anchor="end" stroke="#fff" stroke-width="0.3">5</text>
<text transform="translate(756.30,389.92) scale(1.100,1)" font-size="16.30" text-anchor="end" stroke="#fff" stroke-width="0.3">0</text>
<text transform="translate(756.30,323.02) scale(1.100,1)" font-size="16.30" text-anchor="end" stroke="#fff" stroke-width="0.3">1</text>
<text transform="translate(756.30,256.31) scale(1.100,1)" font-size="16.30" text-anchor="end" stroke="#fff" stroke-width="0.3">2</text>
<text transform="translate(756.30,189.32) scale(1.100,1)" font-size="16.30" text-anchor="end" stroke="#fff" stroke-width="0.3">3</text>
<text transform="translate(756.30,123.61) scale(1.100,1)" font-size="16.30" text-anchor="end" stroke="#fff" stroke-width="0.3">4</text>
<text transform="translate(756.30,60.54) scale(1.100,1)" font-size="16.30" text-anchor="end" stroke="#fff" stroke-width="0.3">5</text>
<text transform="translate(71.50,783.30) scale(1.050,1)" font-size="23.20" text-anchor="end" stroke="#fff" stroke-width="0.3">0</text>
<text transform="translate(71.50,718.20) scale(1.050,1)" font-size="23.20" text-anchor="end" stroke="#fff" stroke-width="0.3">1</text>
<text transform="translate(71.50,652.62) scale(1.050,1)" font-size="23.20" text-anchor="end" stroke="#fff" stroke-width="0.3">2</text>
<text transform="translate(71.50,586.80) scale(1.050,1)" font-size="23.20" text-anchor="end" stroke="#fff" stroke-width="0.3">3</text>
<text transform="translate(71.50,521.62) scale(1.050,1)" font-size="23.20" text-anchor="end" stroke="#fff" stroke-width="0.3">4</text>
<text transform="translate(71.50,456.19) scale(1.050,1)" font-size="23.20" text-anchor="end" stroke="#fff" stroke-width="0.3">5</text>
<text transform="translate(53.18,24.50) scale(0.9868,1)" font-size="31.01" font-weight="700" fill="#000" stroke="#fff" stroke-width="0">A</text>
<text transform="translate(740.75,24.70) scale(0.9978,1)" font-size="30.72" font-weight="700" fill="#000" stroke="#fff" stroke-width="0">B</text>
<text transform="translate(105.79,471.30) scale(1.0103,1)" font-size="30.00" font-weight="700" fill="#000" stroke="#fff" stroke-width="0">C</text>
<text transform="translate(224.10,417.40) scale(0.9977,1)" font-size="23.57" fill="#000" stroke="#fff" stroke-width="0.35">Apr 18</text>
<text transform="translate(573.29,417.50) scale(1.0155,1)" font-size="23.57" fill="#000" stroke="#fff" stroke-width="0.35">May 18</text>
<text transform="translate(921.90,417.10) scale(1.0150,1)" font-size="23.00" fill="#000" stroke="#fff" stroke-width="0.35">Apr 18</text>
<text transform="translate(1245.89,417.10) scale(1.0266,1)" font-size="23.29" fill="#000" stroke="#fff" stroke-width="0.35">May 18</text>
<text transform="translate(72.29,806.10) scale(1.0155,1)" font-size="22.29" fill="#000" stroke="#fff" stroke-width="0.35">Dec 18</text>
<text transform="translate(264.16,806.50) scale(0.9380,1)" font-size="23.57" fill="#000" stroke="#fff" stroke-width="0.35">Jan 19</text>
<text transform="translate(613.91,806.50) scale(0.9609,1)" font-size="23.29" fill="#000" stroke="#fff" stroke-width="0.35">Feb 19</text>
<text transform="translate(943.96,806.50) scale(1.0405,1)" font-size="23.29" fill="#000" stroke="#fff" stroke-width="0.35">Mar 19</text>
<text transform="translate(1258.60,806.20) scale(1.0424,1)" font-size="22.43" fill="#000" stroke="#fff" stroke-width="0.35">Apr 19</text>
<text transform="translate(735.95,864.20) scale(1.1027,1)" font-size="30.00" fill="#000" stroke="#fff" stroke-width="0.5">Month</text>
<text transform="translate(23.7,533.22) rotate(-90) scale(0.9753,1)" font-size="31.01" stroke="#fff" stroke-width="0.25">Number of singers</text>
</g>
</svg></body></html>
